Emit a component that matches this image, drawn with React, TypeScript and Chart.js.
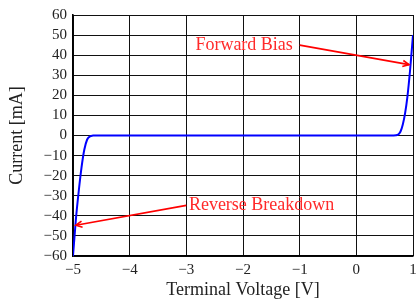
import React, { useEffect, useRef } from "react";
import { Chart, registerables } from "chart.js";

Chart.register(...registerables);

const reverseV = [-5, -4.95, -4.9, -4.85, -4.8, -4.75, -4.7, -4.65, -4.6];
const reverseI = [-60, -42, -28, -16, -7, -2, -0.4, -0.05, 0];
const forwardV = [0.6, 0.7, 0.74, 0.78, 0.82, 0.86, 0.9, 0.95, 1];
const forwardI = [0, 0.1, 0.5, 2, 5.5, 11, 19, 33, 50];

const xTicks = [-5, -4, -3, -2, -1, 0, 1];
const yTicks = [-60, -50, -40, -30, -20, -10, 0, 10, 20, 30, 40, 50, 60];

const annotationLabels = ["Forward Bias", "Reverse Breakdown"];
const arrowFrom = [[-1.0, 45], [-3.0, -34.8]];
const arrowTo = [[0.93, 35.3], [-4.95, -44.7]];
const labelAt = [[-1.12, 42.7], [-2.955, -37.3]];
const labelAlign = ["right", "left"];

const FONT = "'Liberation Serif', serif";
const fmt = (v: number) => (v < 0 ? "\u2212" + Math.abs(v) : String(v));

const annotationPlugin = {
  id: "arrows",
  afterDatasetsDraw(chart: any) {
    const { ctx, scales } = chart;
    const xs = scales.x;
    const ys = scales.y;
    ctx.save();
    for (let i = 0; i < annotationLabels.length; i++) {
      const x1 = xs.getPixelForValue(arrowFrom[i][0]);
      const y1 = ys.getPixelForValue(arrowFrom[i][1]);
      const x2 = xs.getPixelForValue(arrowTo[i][0]);
      const y2 = ys.getPixelForValue(arrowTo[i][1]);
      ctx.strokeStyle = "#ff0000";
      ctx.lineWidth = 1.6;
      ctx.beginPath();
      ctx.moveTo(x1, y1);
      ctx.lineTo(x2, y2);
      ctx.stroke();
      const ang = Math.atan2(y2 - y1, x2 - x1);
      const L = 7;
      ctx.beginPath();
      ctx.moveTo(x2 - L * Math.cos(ang - 0.45), y2 - L * Math.sin(ang - 0.45));
      ctx.lineTo(x2, y2);
      ctx.lineTo(x2 - L * Math.cos(ang + 0.45), y2 - L * Math.sin(ang + 0.45));
      ctx.stroke();
      ctx.fillStyle = "#ff2a2a";
      ctx.font = `18px ${FONT}`;
      ctx.textAlign = labelAlign[i];
      ctx.textBaseline = "alphabetic";
      ctx.fillText(
        annotationLabels[i],
        xs.getPixelForValue(labelAt[i][0]),
        ys.getPixelForValue(labelAt[i][1])
      );
    }
    ctx.restore();
  },
};

export default function App() {
  const ref = useRef<HTMLCanvasElement>(null);
  useEffect(() => {
    document.body.style.margin = "0";
    const pts = [
      ...reverseV.map((v, i) => ({ x: v, y: reverseI[i] })),
      ...forwardV.map((v, i) => ({ x: v, y: forwardI[i] })),
    ];
    const chart = new Chart(ref.current!, {
      type: "line",
      data: {
        datasets: [
          {
            data: pts,
            borderColor: "#0000ff",
            borderWidth: 2,
            pointRadius: 0,
            cubicInterpolationMode: "monotone",
            fill: false,
          },
        ],
      },
      options: {
        animation: false,
        responsive: false,
        devicePixelRatio: 1,
        layout: { padding: { left: 0, right: 3, top: 13, bottom: 0 } },
        plugins: { legend: { display: false }, tooltip: { enabled: false } },
        scales: {
          x: {
            type: "linear",
            min: -5,
            max: 1,
            afterBuildTicks: (s: any) => {
              s.ticks = xTicks.map((v) => ({ value: v }));
            },
            afterFit: (s: any) => {
              s.height = 45;
              s.paddingRight = 0;
              s.paddingLeft = 0;
            },
            grid: { color: "#111", lineWidth: 1, drawTicks: false },
            border: { color: "#000", width: 1.6 },
            ticks: {
              color: "#222",
              font: { family: FONT, size: 15 },
              padding: 5,
              maxRotation: 0,
              autoSkip: false,
              callback: (v: any) => fmt(Number(v)),
            },
            title: {
              display: true,
              text: "Terminal Voltage [V]",
              color: "#222",
              font: { family: FONT, size: 18 },
              padding: { top: 0, bottom: 0 },
            },
          },
          y: {
            type: "linear",
            min: -60,
            max: 60,
            afterBuildTicks: (s: any) => {
              s.ticks = yTicks.map((v) => ({ value: v }));
            },
            afterFit: (s: any) => {
              s.width = 73;
            },
            grid: { color: "#111", lineWidth: 1, drawTicks: false },
            border: { color: "#000", width: 1.6 },
            ticks: {
              color: "#222",
              font: { family: FONT, size: 15 },
              padding: 6,
              autoSkip: false,
              callback: (v: any) => fmt(Number(v)),
            },
            title: {
              display: true,
              text: "Current [mA]",
              color: "#222",
              font: { family: FONT, size: 18 },
              padding: { top: 6, bottom: 0 },
            },
          },
        },
      },
      plugins: [annotationPlugin],
    } as any);
    return () => chart.destroy();
  }, []);
  return (
    <div style={{ width: 416, height: 301 }}>
      <canvas ref={ref} width={416} height={301} />
    </div>
  );
}
